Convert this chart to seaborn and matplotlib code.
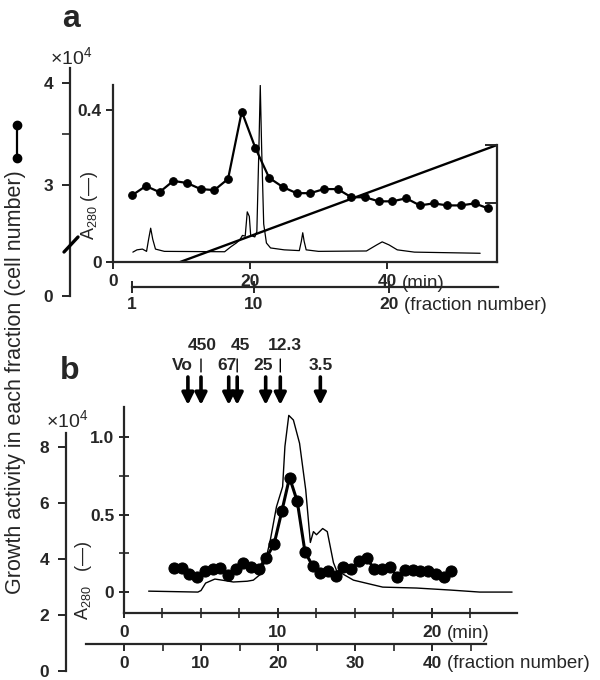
import numpy as np
import matplotlib
matplotlib.use('Agg')
import matplotlib.pyplot as plt
import matplotlib.transforms as mtransforms
from matplotlib.lines import Line2D
import seaborn as sns

# ---------------- data ----------------
# panel a: growth activity (cell number, x10^4) per fraction
frac_a = np.arange(1, 28)
cells_a = [2.90, 2.99, 2.93, 3.04, 3.02, 2.96, 2.95, 3.06, 3.72, 3.36,
           3.07, 2.98, 2.92, 2.92, 2.96, 2.96, 2.88, 2.88, 2.84, 2.84,
           2.87, 2.80, 2.82, 2.80, 2.80, 2.82, 2.77]

# panel a: A280 trace (time in min)
a280_a_min = [2.9, 3.5, 4.3, 4.9, 5.2, 5.5, 5.8, 6.2, 7.5, 16.3, 17.2, 18.0,
              18.5, 18.9, 19.3, 19.6, 19.9, 20.1, 20.7, 21.0, 21.3, 21.5,
              21.7, 22.0, 22.4, 23.0, 25.0, 27.2, 27.5, 27.7, 27.9, 28.2,
              30.0, 37.0, 38.5, 39.3, 40.3, 41.5, 44.0, 53.6]
a280_a = [0.026, 0.032, 0.034, 0.028, 0.060, 0.089, 0.060, 0.034, 0.028,
          0.027, 0.040, 0.050, 0.058, 0.070, 0.068, 0.132, 0.120, 0.070,
          0.066, 0.080, 0.300, 0.465, 0.300, 0.100, 0.050, 0.037, 0.032,
          0.030, 0.055, 0.077, 0.055, 0.032, 0.028, 0.029, 0.045, 0.053,
          0.045, 0.032, 0.026, 0.023]

# panel a: elution gradient (drawn on A280 scale)
grad_a_min = [9.8, 56.06]
grad_a = [0.0, 0.308]

# panel b: growth activity per fraction
frac_b = np.arange(6, 43)
cells_b = [3.67, 3.67, 3.46, 3.34, 3.58, 3.66, 3.69, 3.44, 3.66, 3.87,
           3.73, 3.66, 4.05, 4.54, 5.71, 6.91, 6.06, 4.26, 3.75, 3.50,
           3.58, 3.40, 3.73, 3.64, 3.92, 4.02, 3.66, 3.64, 3.73, 3.36,
           3.60, 3.60, 3.58, 3.58, 3.48, 3.37, 3.57]

# panel b: A280 trace
a280_b_min = [1.6, 4.8, 5.0, 5.3, 5.9, 6.5, 7.1, 8.0, 8.4, 8.8, 9.0, 9.3,
              9.5, 9.9, 10.3, 10.45, 10.7, 11.0, 11.4, 11.8, 12.1, 12.3,
              12.5, 12.9, 13.2, 13.6, 13.8, 14.9, 16.8, 19.0, 21.2, 23.1, 25.2]
a280_b = [0.006, 0.0, 0.01, 0.058, 0.084, 0.075, 0.065, 0.07, 0.077, 0.11,
          0.155, 0.25, 0.335, 0.55, 0.68, 0.94, 1.14, 1.11, 0.96, 0.66,
          0.32, 0.39, 0.37, 0.41, 0.39, 0.19, 0.14, 0.077, 0.032, 0.026,
          0.013, 0.0, 0.0]

# panel b: molecular weight markers (kDa) and elution time (min)
marker_labels = ['Vo', '450', '67', '45', '25', '12.3', '3.5']
marker_min = [4.15, 5.0, 6.8, 7.35, 9.2, 10.15, 12.75]
marker_row = [2, 1, 2, 1, 2, 1, 2]
marker_dx = [-6, 1, -2, 3, -3, 5, 0]   # label nudge, px

# ---------------- style ----------------
sns.set_style('ticks')
plt.rcParams['font.family'] = ['Liberation Sans', 'DejaVu Sans']
plt.rcParams['mathtext.fontset'] = 'custom'
plt.rcParams['mathtext.rm'] = 'Liberation Sans'
plt.rcParams['mathtext.it'] = 'Liberation Sans'
plt.rcParams['axes.linewidth'] = 1.6
plt.rcParams['xtick.major.width'] = 1.4
plt.rcParams['ytick.major.width'] = 1.4
plt.rcParams['xtick.minor.width'] = 1.2
plt.rcParams['ytick.minor.width'] = 1.2

W, H = 600, 680
fig = plt.figure(figsize=(6, 6.8), dpi=100)
TICKFONT = dict(fontsize=12.5, fontweight='bold')
UNITFONT = dict(fontsize=13.5)


def box(x0, y0, x1, y1):
    # pixel box (top-left origin) -> figure fraction rect
    return [x0 / W, 1 - y1 / H, (x1 - x0) / W, (y1 - y0) / H]


def only_spines(ax, keep):
    for s in ['left', 'right', 'top', 'bottom']:
        ax.spines[s].set_visible(s in keep)
    ax.patch.set_visible(False)


# ================= panel a =================
ax_a = fig.add_axes(box(113, 85, 497, 262))
sns.lineplot(x=a280_a_min, y=a280_a, ax=ax_a, color='k', lw=0.9)
sns.lineplot(x=grad_a_min, y=grad_a, ax=ax_a, color='k', lw=1.7)
ax_a.set_xlim(0, 56.06)
ax_a.set_ylim(0, 0.466)
only_spines(ax_a, ['left', 'bottom'])
ax_a.set_yticks([0, 0.4], ['0', '0.4'], **TICKFONT)
ax_a.set_xticks([0, 20, 40], ['0', '20', '40'], **TICKFONT)
ax_a.tick_params(axis='y', direction='out', length=5, pad=3)
ax_a.tick_params(axis='x', direction='out', length=5, pad=4)
ax_a.annotate('(min)', xy=(40, 0), xycoords=('data', 'axes fraction'),
              xytext=(11, -9), textcoords='offset points', ha='left', va='top',
              **UNITFONT)
ax_a.set_xlabel('')
ax_a.set_ylabel('')

# right frame of gradient (with ticks)
ax_ar = ax_a.twinx()
ax_ar.set_ylim(0, 0.466)
only_spines(ax_ar, ['right'])
ax_ar.spines['right'].set_bounds(0, 0.308)
ax_ar.set_yticks([0.155, 0.308], ['', ''])
ax_ar.tick_params(axis='y', direction='in', length=9)

# fraction number axis
ax_af = fig.add_axes(box(132, 286, 498, 287))
only_spines(ax_af, ['bottom'])
ax_af.set_xlim(1.385, 28.07)
ax_af.set_yticks([])
ax_af.set_xticks([1, 10, 20], ['1', '10', '20'], **TICKFONT)
ax_af.tick_params(axis='x', direction='inout', length=9, pad=3)
ax_af.annotate('(fraction number)', xy=(20, 0), xycoords=('data', 'axes fraction'),
               xytext=(11, -7.5), textcoords='offset points', ha='left', va='top',
               **UNITFONT)

# growth activity overlay (outer scale)
ax_ac = fig.add_axes(box(113, 68, 497, 296))
ax_ac.set_xlim(0, 28.03)
ax_ac.set_ylim(1.912, 4.147)
sns.lineplot(x=frac_a + 0.4, y=cells_a, ax=ax_ac, color='k', lw=1.6,
             marker='o', markersize=5.5, markeredgecolor='k')
ax_ac.axis('off')

# outer cell-number axis (broken)
ax_ao = fig.add_axes(box(70, 68, 71, 296))
only_spines(ax_ao, ['left'])
ax_ao.set_ylim(1.912, 4.147)
ax_ao.set_xticks([])
ax_ao.set_yticks([1.912, 3, 4], ['0', '3', '4'], **TICKFONT)
ax_ao.set_yticks([3.5], minor=True)
ax_ao.tick_params(axis='y', which='both', direction='out', length=6, pad=6)
fig.add_artist(Line2D([64 / W, 78 / W], [1 - 252 / H, 1 - 237 / H], color='k', lw=2.4))
fig.text(71 / W, 1 - 57 / H, r'$\times$10$^{4}$', ha='center', va='center', fontsize=14)
fig.text(71 / W, 1 - 19 / H, 'a', ha='center', va='center', fontsize=23, fontweight='bold')
fig.text(90 / W, 1 - 205 / H, r'A$_{280}$ (—)', rotation=90, ha='center', va='center',
         fontsize=13)

# ================= panel b =================
ax_b = fig.add_axes(box(124, 407, 517, 613))
sns.lineplot(x=a280_b_min, y=a280_b, ax=ax_b, color='k', lw=1.0)
ax_b.set_xlim(0, 25.52)
ax_b.set_ylim(-0.135, 1.194)
only_spines(ax_b, ['left', 'bottom'])
ax_b.set_yticks([0, 0.5, 1.0], ['0', '0.5', '1.0'], **TICKFONT)
ax_b.set_yticks([0.25, 0.75], minor=True)
ax_b.set_xticks([0, 10, 20], ['0', '10', '20'], **TICKFONT)
ax_b.set_xticks(np.arange(2.5, 25, 2.5), minor=True)
ax_b.tick_params(axis='both', which='both', direction='inout', length=7)
ax_b.tick_params(axis='x', pad=5)
ax_b.annotate('(min)', xy=(20, 0), xycoords=('data', 'axes fraction'),
              xytext=(11, -9), textcoords='offset points', ha='left', va='top',
              **UNITFONT)
ax_b.set_xlabel('')
ax_b.set_ylabel('')

# fraction number axis
ax_bf = fig.add_axes(box(86, 643, 486, 644))
only_spines(ax_bf, ['bottom'])
ax_bf.set_xlim(-4.935, 47.01)
ax_bf.set_yticks([])
ax_bf.set_xticks([0, 10, 20, 30, 40], ['0', '10', '20', '30', '40'], **TICKFONT)
ax_bf.set_xticks([5, 15, 25, 35, 45], minor=True)
ax_bf.tick_params(axis='x', which='both', direction='out', length=5, pad=4)
ax_bf.annotate('(fraction number)', xy=(40, 0), xycoords=('data', 'axes fraction'),
               xytext=(11, -8), textcoords='offset points', ha='left', va='top',
               **UNITFONT)

# growth activity overlay
ax_bc = fig.add_axes(box(124, 433, 517, 671))
ax_bc.set_xlim(0, 51.04)
ax_bc.set_ylim(0, 8.5)
sns.lineplot(x=frac_b + 0.5, y=cells_b, ax=ax_bc, color='k', lw=2.2,
             marker='o', markersize=8, markeredgecolor='k')
ax_bc.axis('off')

# outer cell-number axis
ax_bo = fig.add_axes(box(66, 433, 67, 671))
only_spines(ax_bo, ['left'])
ax_bo.set_ylim(0, 8.5)
ax_bo.set_xticks([])
ax_bo.set_yticks([0, 2, 4, 6, 8], ['0', '2', '4', '6', '8'], **TICKFONT)
ax_bo.tick_params(axis='y', direction='out', length=6, pad=6)
fig.text(67 / W, 1 - 420 / H, r'$\times$10$^{4}$', ha='center', va='center', fontsize=14)
fig.text(70 / W, 1 - 371 / H, 'b', ha='center', va='center', fontsize=23, fontweight='bold')
fig.text(83 / W, 1 - 580 / H, r'A$_{280}$   (—)', rotation=90, ha='center', va='center',
         fontsize=13)

# marker arrows
trans = mtransforms.blended_transform_factory(ax_b.transData, fig.transFigure)
for lab, m, row, dx in zip(marker_labels, marker_min, marker_row, marker_dx):
    ax_b.annotate('', xy=(m, 1 - 405 / H), xytext=(m, 1 - 377 / H),
                  xycoords=trans, textcoords=trans, annotation_clip=False,
                  arrowprops=dict(arrowstyle='-|>,head_length=0.7,head_width=0.35',
                                  lw=2.6, color='k', shrinkA=0, shrinkB=0))
    ty = 345 if row == 1 else 366
    ax_b.annotate(lab, xy=(m, 1 - ty / H), xycoords=trans, annotation_clip=False,
                  xytext=(dx * 0.72, 0), textcoords='offset points',
                  ha='center', va='center', fontsize=12.5, fontweight='bold')
    if row == 1:
        ax_b.annotate('', xy=(m, 1 - 372 / H), xytext=(m, 1 - 359 / H),
                      xycoords=trans, textcoords=trans, annotation_clip=False,
                      arrowprops=dict(arrowstyle='-', lw=1.0, color='k',
                                      shrinkA=0, shrinkB=0))

# shared y label with legend symbol
fig.text(16 / W, 1 - 382 / H, 'Growth activity in each fraction (cell number)',
         rotation=90, ha='center', va='center', fontsize=15.5)
fig.add_artist(Line2D([17 / W, 17 / W], [1 - 158 / H, 1 - 125 / H], color='k', lw=1.6,
                      marker='o', markersize=6))

fig.savefig('out.png', dpi=100)
